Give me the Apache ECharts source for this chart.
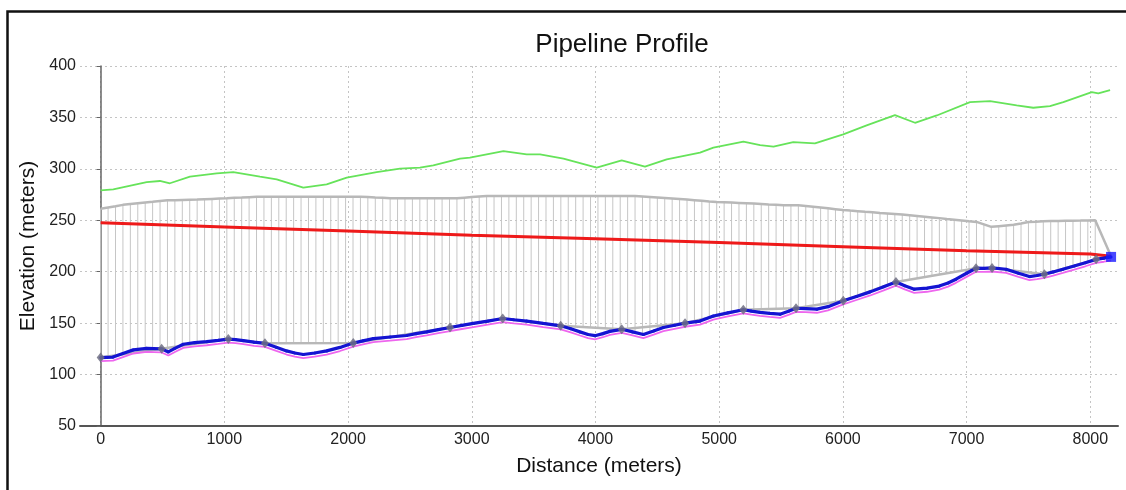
<!DOCTYPE html>
<html>
<head>
<meta charset="utf-8">
<script src="https://cdn.jsdelivr.net/npm/echarts@6/dist/echarts.min.js"></script>
<style>
html, body { margin: 0; padding: 0; background: #fff; }
#profile { width: 1126px; height: 490px; }
</style>
</head>
<body>
<div id="profile"></div>
<script>
var myChart = echarts.init(document.getElementById('profile'));

// x tick labels (meters)
var distTicks = [0, 1000, 2000, 3000, 4000, 5000, 6000, 7000, 8000];

// hanger stations: top (grey) and lower end of the vertical lines
var hangDist = [0, 60, 120, 180, 240, 300, 360, 420, 480, 540, 600, 660, 720, 780, 840, 900, 960, 1020, 1080, 1140,
    1200, 1260, 1320, 1380, 1440, 1500, 1560, 1620, 1680, 1740, 1800, 1860, 1920, 1980, 2040, 2100, 2160, 2220, 2280, 2340,
    2400, 2460, 2520, 2580, 2640, 2700, 2760, 2820, 2880, 2940, 3000, 3060, 3120, 3180, 3240, 3300, 3360, 3420, 3480, 3540,
    3600, 3660, 3720, 3780, 3840, 3900, 3960, 4020, 4080, 4140, 4200, 4260, 4320, 4380, 4440, 4500, 4560, 4620, 4680, 4740,
    4800, 4860, 4920, 4980, 5040, 5100, 5160, 5220, 5280, 5340, 5400, 5460, 5520, 5580, 5640, 5700, 5760, 5820, 5880, 5940,
    6000, 6060, 6120, 6180, 6240, 6300, 6360, 6420, 6480, 6540, 6600, 6660, 6720, 6780, 6840, 6900, 6960, 7020, 7080, 7140,
    7200, 7260, 7320, 7380, 7440, 7500, 7560, 7620, 7680, 7740, 7800, 7860, 7920, 7980, 8040, 8168];
var hangTop = [261.3, 262.5, 263.7, 265, 265.9, 266.6, 267.3, 268, 268.8, 269.4, 269.6, 269.8, 270, 270.2, 270.5, 270.8, 271.1, 271.4, 271.8, 272.1,
    272.5, 272.8, 273, 273, 273, 273, 273, 273, 273, 273, 273, 273, 273, 273, 273, 273, 272.6, 272.2, 271.9, 271.5,
    271.4, 271.4, 271.4, 271.4, 271.4, 271.4, 271.4, 271.4, 271.4, 272, 272.6, 273.2, 273.6, 273.6, 273.6, 273.6, 273.6, 273.6, 273.6, 273.6,
    273.6, 273.6, 273.6, 273.6, 273.6, 273.6, 273.6, 273.6, 273.6, 273.6, 273.6, 273.6, 273.6, 273.1, 272.6, 272.1, 271.6, 271.1, 270.6, 270.1,
    269.5, 268.9, 268.3, 267.8, 267.5, 267.2, 266.9, 266.6, 266.3, 265.9, 265.4, 265, 264.6, 264.6, 264.6, 264, 263.2, 262.4, 261.6, 260.8,
    260, 259.4, 258.9, 258.3, 257.8, 257.2, 256.7, 256.2, 255.6, 254.9, 254.2, 253.5, 252.8, 252.1, 251.3, 250.6, 249.9, 249.1, 248.4, 246,
    243.6, 244.3, 245, 245.7, 246.9, 248.3, 248.6, 249, 249.3, 249.4, 249.5, 249.6, 249.7, 249.9, 250, 215];
var hangLow = [116.5, 116.8, 118, 120.5, 123.3, 124.5, 125.3, 125.3, 125, 122.3, 125.5, 129, 130.2, 131, 131.8, 132.5, 133.3, 134.4, 134, 133.2,
    132.2, 131.2, 130.4, 130.5, 130.5, 130.5, 130.5, 130.5, 130.5, 130.5, 130.5, 130.5, 130.5, 130.5, 130.5, 132.2, 133.8, 135.2, 135.9, 136.5,
    137.2, 137.8, 138.8, 140.2, 141.6, 143, 144.4, 145.7, 146.9, 148.2, 149.4, 150.6, 151.8, 153, 154.3, 154, 153.2, 152.4, 151.4, 150.4,
    149.3, 148.3, 147.4, 147, 146.5, 146.1, 145.7, 145.2, 144.8, 144.4, 144.1, 142.6, 141, 139.2, 141.3, 143.8, 146.1, 147.6, 149, 150.4,
    151.3, 152.7, 155.4, 157.6, 159.1, 160.6, 162.1, 163.1, 163.3, 163.5, 163.7, 163.9, 164.1, 164.3, 164.9, 166, 167.1, 168.3, 169.4, 170.5,
    171.6, 174, 176.4, 178.8, 181.3, 184.1, 186.9, 189.6, 191.1, 192.3, 193.5, 194.8, 196, 197.3, 198.5, 199.8, 201, 202.2, 203.4, 203.5,
    203.7, 202.9, 202, 201.2, 200.3, 199.4, 198.6, 197.7, 199.2, 201.2, 203.2, 205.4, 207.5, 209.6, 211.8, 214.4];

// pipe profile (blue) and the line just under it (pink)
var pipeDist = [0, 100, 180, 264, 372, 430, 493, 547, 600, 668, 760, 858, 950, 1032, 1090, 1153, 1240, 1328, 1420, 1503,
    1570, 1638, 1730, 1827, 1935, 2042, 2120, 2204, 2340, 2474, 2550, 2636, 2730, 2824, 2920, 3013, 3130, 3250, 3340, 3444,
    3578, 3719, 3800, 3875, 3940, 3996, 4060, 4117, 4212, 4300, 4387, 4470, 4549, 4640, 4724, 4845, 4953, 5070, 5195, 5260,
    5330, 5410, 5492, 5560, 5621, 5700, 5790, 5880, 6003, 6110, 6221, 6330, 6429, 6500, 6577, 6680, 6779, 6850, 6914, 7000,
    7076, 7140, 7206, 7319, 7420, 7508, 7570, 7629, 7700, 7778, 7870, 7960, 8047, 8110, 8168];
var pipeElev = [116.5, 117, 120.5, 124, 125.5, 125.3, 125, 122, 125.5, 129.5, 131, 132, 133.3, 134.5, 134, 133, 131.5, 130.4, 126.5, 123,
    121, 119.5, 121, 123, 126.4, 130.6, 132.8, 135, 136.5, 138, 139.8, 141.5, 143.7, 145.8, 147.8, 149.7, 152, 154.5, 153.3, 152,
    149.7, 147.4, 144.5, 141.5, 139, 137.8, 139.8, 142, 144, 141.5, 139, 142.3, 145.8, 148, 150, 152, 157, 160, 163, 161.7,
    160.5, 159.5, 158.7, 161.5, 164.5, 164.2, 163.6, 166, 171.7, 176, 180.4, 185.4, 190, 186.3, 183, 184, 186, 189, 192.7, 198.5,
    203.4, 203.3, 203.7, 202.4, 198.5, 195.3, 196.3, 197.6, 199.8, 202.4, 205.6, 208.8, 212, 213.2, 214.4];
var groundElev = [113, 113.5, 117, 120.5, 122, 121.8, 121.5, 118.5, 122, 126, 127.5, 128.5, 129.8, 131, 130.5, 129.5, 128, 126.9, 123, 119.5,
    117.5, 116, 117.5, 119.5, 122.9, 127.1, 129.3, 131.5, 133, 134.5, 136.3, 138, 140.2, 142.3, 144.3, 146.2, 148.5, 151, 149.8, 148.5,
    146.2, 143.9, 141, 138, 135.5, 134.3, 136.3, 138.5, 140.5, 138, 135.5, 138.8, 142.3, 144.5, 146.5, 148.5, 153.5, 156.5, 159.5, 158.2,
    157, 156, 155.2, 158, 161, 160.7, 160.1, 162.5, 168.2, 172.5, 176.9, 181.9, 186.5, 182.8, 179.5, 180.5, 182.5, 185.5, 189.2, 195,
    199.9, 199.8, 200.2, 198.9, 195, 191.8, 192.8, 194.1, 196.3, 198.9, 202.1, 205.3, 208.5, 209.7, 210.9];

// grey diamond points (high points) joined by the lower grey line
var valveDist = [0, 493, 1032, 1328, 2042, 2824, 3250, 3719, 4212, 4724, 5195, 5621, 6003, 6429, 7076, 7206, 7629, 8047];
var valveElev = [116.5, 125, 134.5, 130.4, 130.6, 145.8, 154.5, 147.4, 144, 150, 163, 164.5, 171.7, 190, 203.4, 203.7, 197.6, 212];

// red line
var redDist = [0, 1000, 2000, 3000, 4000, 5000, 6000, 7000, 8000, 8168];
var redElev = [247.5, 243.5, 239.5, 235.5, 232, 228.3, 224.3, 220.5, 217.3, 215];

// green line
var greenDist = [0, 102, 372, 479, 560, 722, 938, 1072, 1288, 1423, 1638, 1827, 1989, 2231, 2420, 2581, 2689, 2905, 2985, 3256,
    3444, 3552, 3741, 4010, 4212, 4400, 4576, 4845, 4953, 5196, 5331, 5439, 5599, 5774, 6003, 6192, 6421, 6583, 6759, 7028,
    7190, 7405, 7539, 7674, 7782, 8012, 8065, 8160];
var greenElev = [279, 280, 287.2, 288.2, 286, 292.4, 295.6, 296.9, 292.4, 289.8, 281.7, 285, 291.5, 296.9, 300.2, 301.2, 303.4, 309.9, 310.9, 317.3,
    314, 314, 309.9, 301.2, 308.3, 302.1, 309.2, 315.7, 320.6, 326.4, 323.1, 321.6, 326, 324.8, 333.5, 342.2, 352.2, 344.8, 351.9, 364.9,
    365.8, 361.7, 359.4, 361, 364.9, 374.6, 373.3, 376.5];

function pairs(xs, ys) {
    var out = [];
    for (var i = 0; i < xs.length; i++) {
        out.push([xs[i], ys[i]]);
    }
    return out;
}

var hangers = [];
for (var i = 0; i < hangDist.length; i++) {
    hangers.push([hangDist[i], hangLow[i], hangTop[i]]);
}

var fontName = "'Liberation Sans', Arial, sans-serif";
var gridDots = { color: '#c4c4c4', type: [2, 3], width: 1 };

var option = {
    animation: false,
    title: {
        text: 'Pipeline Profile',
        left: 617,
        textAlign: 'center',
        top: 27,
        textStyle: {
            color: '#111',
            fontSize: 26,
            fontWeight: 'normal',
            fontFamily: fontName
        }
    },
    grid: {
        left: 80,
        right: 8,
        top: 66,
        bottom: 64
    },
    xAxis: {
        type: 'value',
        min: -167,
        max: 8224,
        name: 'Distance (meters)',
        nameLocation: 'middle',
        nameGap: 30,
        nameTextStyle: {
            color: '#111',
            fontSize: 21,
            fontFamily: fontName
        },
        axisLine: {
            lineStyle: { color: '#555', width: 2 }
        },
        axisTick: {
            show: false,
            customValues: distTicks
        },
        axisLabel: {
            customValues: distTicks,
            formatter: function (v) { return String(v); },
            color: '#222',
            fontSize: 16,
            margin: 6,
            fontFamily: fontName
        },
        splitLine: {
            show: true,
            lineStyle: gridDots
        }
    },
    yAxis: {
        type: 'value',
        min: 50,
        max: 400,
        interval: 50,
        name: 'Elevation (meters)',
        nameLocation: 'middle',
        nameGap: 37,
        nameTextStyle: {
            color: '#111',
            fontSize: 21,
            fontFamily: fontName
        },
        axisLine: {
            show: true,
            lineStyle: { color: '#666', width: 1.5 }
        },
        axisTick: {
            show: true,
            length: 4,
            lineStyle: { color: '#666' }
        },
        axisLabel: {
            color: '#222',
            fontSize: 16,
            margin: 4,
            fontFamily: fontName
        },
        splitLine: {
            show: true,
            lineStyle: gridDots
        }
    },
    graphic: [{
        type: 'rect',
        left: 5,
        top: 9,
        shape: { width: 1140, height: 500 },
        style: { fill: 'none', stroke: '#111', lineWidth: 2.5 },
        silent: true
    }],
    series: [
        {
            name: 'hangers',
            type: 'custom',
            data: hangers,
            z: 1,
            renderItem: function (params, api) {
                var p1 = api.coord([api.value(0), api.value(1)]);
                var p2 = api.coord([api.value(0), api.value(2)]);
                return {
                    type: 'line',
                    shape: { x1: p1[0], y1: p1[1], x2: p2[0], y2: p2[1] },
                    style: { stroke: '#c6c6c6', lineWidth: 1 }
                };
            }
        },
        {
            name: 'top',
            type: 'line',
            data: pairs(hangDist, hangTop),
            showSymbol: false,
            z: 2,
            lineStyle: { color: '#b8b8b8', width: 2.5 }
        },
        {
            name: 'bridge',
            type: 'line',
            data: pairs(valveDist, valveElev),
            showSymbol: false,
            z: 2,
            lineStyle: { color: '#b8b8b8', width: 2.5 }
        },
        {
            name: 'green',
            type: 'line',
            data: pairs(greenDist, greenElev),
            showSymbol: false,
            z: 3,
            lineStyle: { color: '#66e35a', width: 1.8 }
        },
        {
            name: 'red',
            type: 'line',
            data: pairs(redDist, redElev),
            showSymbol: false,
            z: 3,
            lineStyle: { color: '#ee1a1a', width: 3 }
        },
        {
            name: 'ground',
            type: 'line',
            data: pairs(pipeDist, groundElev),
            showSymbol: false,
            z: 4,
            lineStyle: { color: '#ee66ee', width: 1.8 }
        },
        {
            name: 'pipe',
            type: 'line',
            data: pairs(pipeDist, pipeElev),
            symbol: 'circle',
            symbolSize: 3,
            showAllSymbol: true,
            z: 5,
            itemStyle: { color: '#1414d2' },
            lineStyle: { color: '#1414d2', width: 3.2 }
        },
        {
            name: 'valves',
            type: 'scatter',
            data: pairs(valveDist, valveElev),
            symbol: 'diamond',
            symbolSize: [8, 10],
            z: 6,
            itemStyle: { color: '#6f6f82', opacity: 0.85 }
        },
        {
            name: 'end',
            type: 'scatter',
            data: [[pipeDist[pipeDist.length - 1], pipeElev[pipeElev.length - 1]]],
            symbol: 'rect',
            symbolSize: 10,
            z: 6,
            itemStyle: { color: '#1a1aff' }
        }
    ]
};

myChart.setOption(option);
</script>
</body>
</html>
